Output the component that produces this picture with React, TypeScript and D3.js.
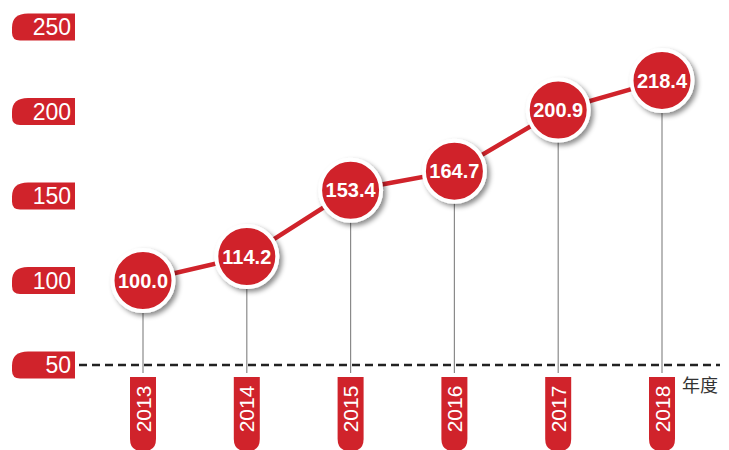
import React from "react";
import * as d3 from "d3";

const years = ["2013", "2014", "2015", "2016", "2017", "2018"];
const values = [100.0, 114.2, 153.4, 164.7, 200.9, 218.4];
const yTicks = [50, 100, 150, 200, 250];
const xUnit = "年度";

const W = 729;
const H = 450;
const RED = "#d0232b";

export default function App() {
  const x = d3.scalePoint<string>().domain(years).range([143, 662]);
  const y = d3.scaleLinear().domain([50, 250]).range([365, 27]);
  const line = d3
    .line<number>()
    .x((_, i) => x(years[i]) as number)
    .y((d) => y(d));

  const yLabelPath = (cy: number) => {
    const top = cy - 13.5;
    const bot = cy + 13.5;
    const l = 12;
    const r = 75;
    return `M${r},${top} L${l + 16},${top} Q${l},${top} ${l},${top + 14} L${l},${bot - 8} Q${l},${bot} ${l + 8},${bot} L${r},${bot} Z`;
  };

  const xTabPath = (cx: number) => {
    const w = 26;
    const top = 377;
    const bot = 451;
    const rr = 12;
    const l = cx - w / 2;
    const r = cx + w / 2;
    return `M${l},${top} L${r},${top} L${r},${bot - rr} Q${r},${bot} ${r - rr},${bot} L${l + rr},${bot} Q${l},${bot} ${l},${bot - rr} Z`;
  };

  return (
    <svg
      width={W}
      height={H}
      style={{ position: "absolute", left: 0, top: 0, background: "#fff" }}
      fontFamily="'Liberation Sans', Arial, sans-serif"
    >
      <defs>
        <filter id="sh" x="-50%" y="-50%" width="200%" height="200%">
          <feDropShadow dx="3" dy="3" stdDeviation="2.5" floodColor="#000" floodOpacity="0.45" />
        </filter>
      </defs>

      {/* y-axis labels */}
      {yTicks.map((t) => (
        <g key={t}>
          <path d={yLabelPath(y(t))} fill={RED} />
          <text
            x={71}
            y={y(t)}
            dy="0.36em"
            textAnchor="end"
            fill="#fff"
            fontSize={23}
          >
            {t}
          </text>
        </g>
      ))}

      {/* vertical guide lines */}
      {years.map((yr, i) => (
        <line
          key={yr}
          x1={x(yr)}
          x2={x(yr)}
          y1={y(values[i])}
          y2={373}
          stroke="#8a8a8a"
          strokeWidth={1.2}
        />
      ))}

      {/* baseline dashed */}
      <line
        x1={79}
        x2={720}
        y1={y(50)}
        y2={y(50)}
        stroke="#222"
        strokeWidth={2.5}
        strokeDasharray="8,5"
      />

      {/* x tabs */}
      {years.map((yr) => {
        const cx = x(yr) as number;
        return (
          <g key={yr}>
            <path d={xTabPath(cx)} fill={RED} />
            <text
              transform={`translate(${cx},409) rotate(-90)`}
              textAnchor="middle"
              dy="0.36em"
              fill="#fff"
              fontSize={21}
            >
              {yr}
            </text>
          </g>
        );
      })}

      <text x={682} y={386} dy="0.36em" fill="#333" fontSize={18} fontFamily="'Noto Sans CJK SC', sans-serif">
        {xUnit}
      </text>

      {/* line */}
      <path d={line(values) || ""} fill="none" stroke={RED} strokeWidth={4.5} />

      {/* circles */}
      {values.map((v, i) => {
        const cx = x(years[i]) as number;
        const cy = y(v);
        return (
          <g key={i}>
            <circle cx={cx} cy={cy} r={30.5} fill={RED} stroke="#fff" strokeWidth={4} filter="url(#sh)" />
            <text
              x={cx}
              y={cy}
              dy="0.36em"
              textAnchor="middle"
              fill="#fff"
              fontWeight="bold"
              fontSize={20}
            >
              {v.toFixed(1)}
            </text>
          </g>
        );
      })}
    </svg>
  );
}
